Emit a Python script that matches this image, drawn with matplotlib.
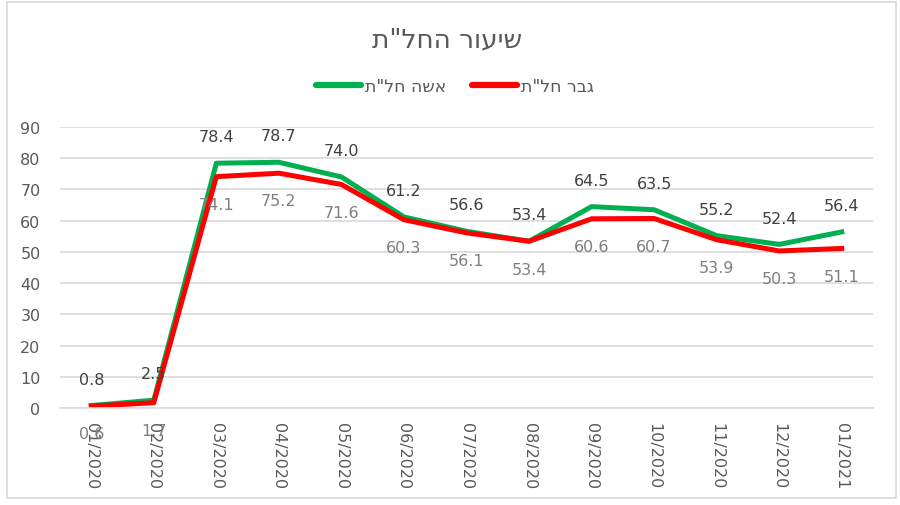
import matplotlib.pyplot as plt
from matplotlib.patches import Rectangle

# data
months = ['01/2020', '02/2020', '03/2020', '04/2020', '05/2020', '06/2020', '07/2020',
          '08/2020', '09/2020', '10/2020', '11/2020', '12/2020', '01/2021']
women = [0.8, 2.5, 78.4, 78.7, 74.0, 61.2, 56.6, 53.4, 64.5, 63.5, 55.2, 52.4, 56.4]
men = [0.6, 1.7, 74.1, 75.2, 71.6, 60.3, 56.1, 53.4, 60.6, 60.7, 53.9, 50.3, 51.1]

title = 'שיעור החל"ת'
women_label = 'אשה חל"ת'
men_label = 'גבר חל"ת'


def rtl(s):
    # matplotlib has no bidi support, so flip hebrew strings by hand
    return s[::-1]


fig = plt.figure(figsize=(9, 5.06), dpi=100)
ax = fig.add_axes([60 / 900, 1 - 409 / 506, 813 / 900, (409 - 128) / 506])

x = range(len(months))
ax.plot(x, women, color='#00B050', lw=3.6, label=rtl(women_label), solid_joinstyle='round')
ax.plot(x, men, color='#FF0000', lw=3.6, label=rtl(men_label), solid_joinstyle='round')

for i in x:
    ax.annotate(f'{women[i]:.1f}', (i, women[i]), xytext=(0, 19), textcoords='offset points',
                ha='center', va='center', fontsize=11.5, color='#404040')
    ax.annotate(f'{men[i]:.1f}', (i, men[i]), xytext=(0, -20), textcoords='offset points',
                ha='center', va='center', fontsize=11.5, color='#7F7F7F')

ax.set_xlim(-0.5, len(months) - 0.5)
ax.set_ylim(0, 90)
ax.set_yticks(range(0, 91, 10))
ax.set_xticks(list(x))
ax.set_xticklabels(months, rotation=270, fontsize=11.5, color='#595959')
ax.tick_params(axis='y', labelsize=11.5, labelcolor='#595959', length=0, pad=14)
ax.tick_params(axis='x', length=0, pad=10)
ax.grid(axis='y', color='#D9D9D9', lw=1.2)
ax.set_axisbelow(True)
for s in ['top', 'right', 'left']:
    ax.spines[s].set_visible(False)
ax.spines['bottom'].set_color('#D9D9D9')
ax.spines['bottom'].set_linewidth(1.2)

fig.text(0.5 - 3 / 900, 1 - 40 / 506, rtl(title), ha='center', va='center', fontsize=19,
         color='#595959')
leg = fig.legend(loc='center', bbox_to_anchor=(455 / 900, 1 - 87 / 506), ncol=2, frameon=False,
                 fontsize=12.5, labelcolor='#595959', handlelength=2.6, columnspacing=1.5,
                 handletextpad=0.2)
for h in leg.get_lines():
    h.set_linewidth(4.5)
    h.set_solid_capstyle('round')

fig.patches.append(Rectangle((7 / 900, 1 - 499 / 506), 889 / 900, 496 / 506,
                             transform=fig.transFigure, fill=False, edgecolor='#D9D9D9', lw=1.2))

plt.savefig('out.png', dpi=100)
